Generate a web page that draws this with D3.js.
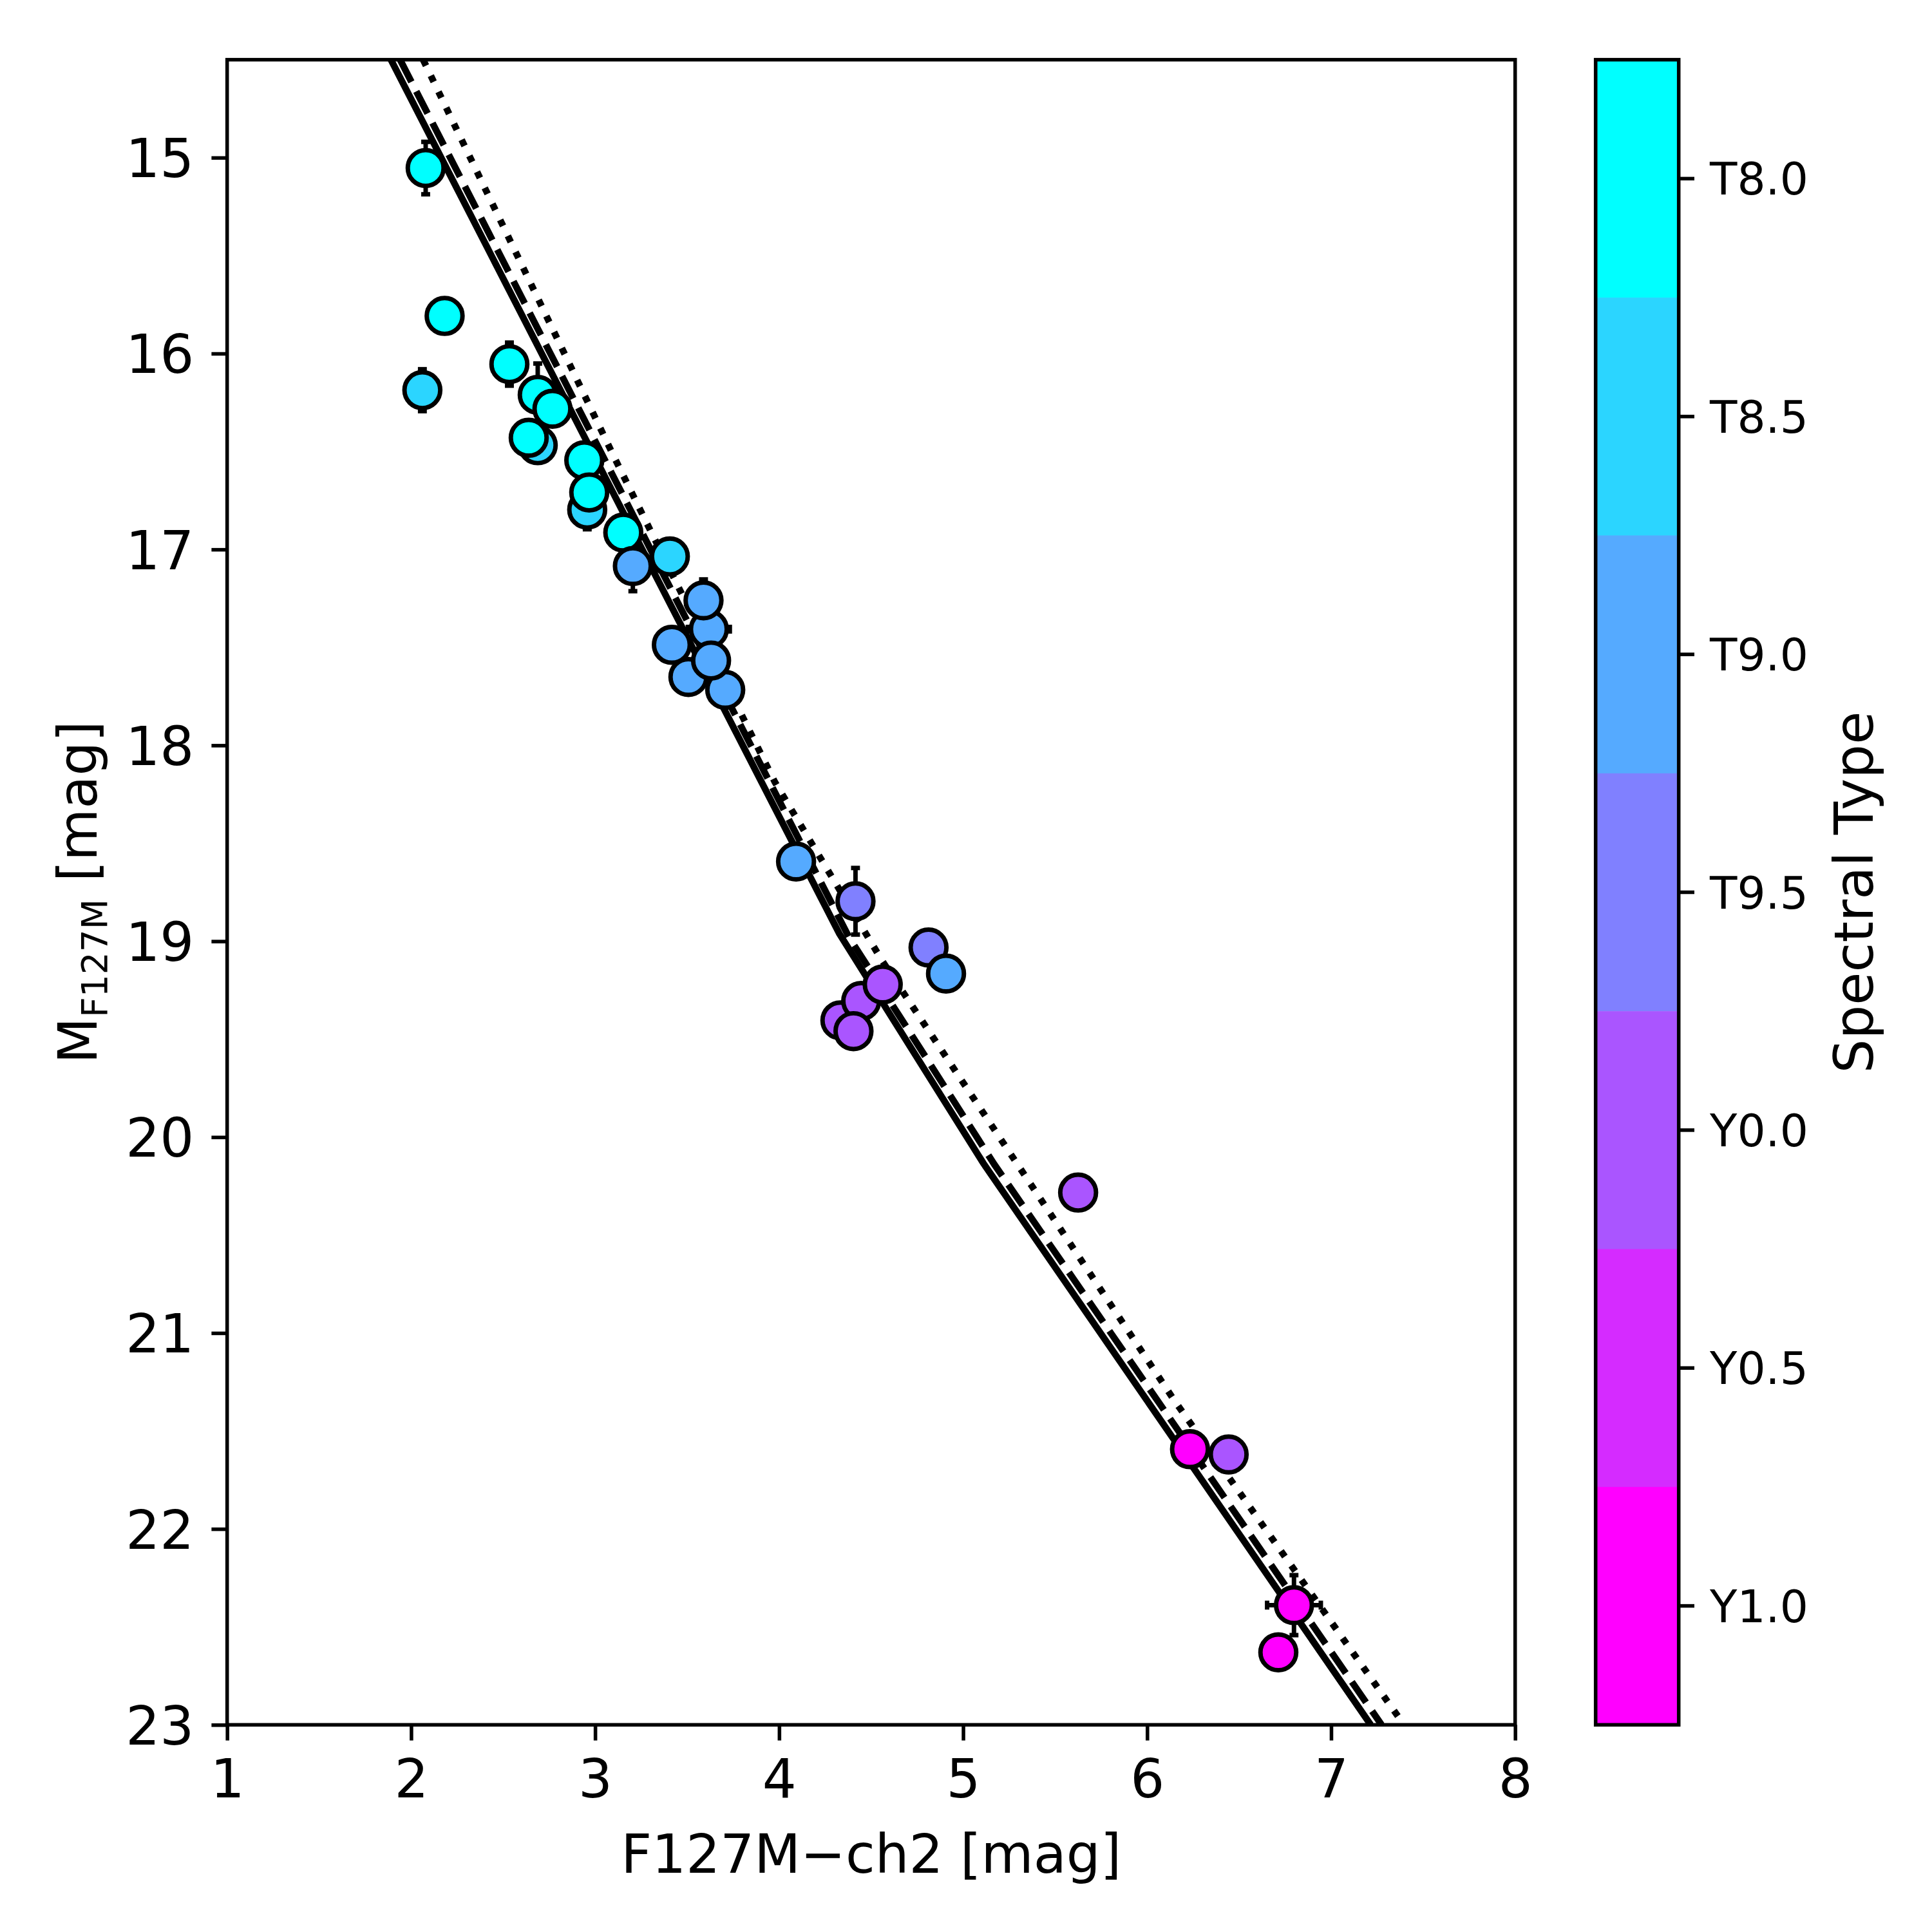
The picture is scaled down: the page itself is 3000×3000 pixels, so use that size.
<!DOCTYPE html>
<html>
<head>
<meta charset="utf-8">
<script src="https://cdn.jsdelivr.net/npm/d3@7"></script>
<style>
  body { margin: 0; background: #fff; }
  text { font-family: "DejaVu Sans", sans-serif; fill: #000; }
</style>
</head>
<body>
<div id="chart"></div>
<script>
// spectral type bins of the colour bar (top to bottom)
const spectralTypes = ['T8.0', 'T8.5', 'T9.0', 'T9.5', 'Y0.0', 'Y0.5', 'Y1.0'];
const xTicks = [1, 2, 3, 4, 5, 6, 7, 8];
const yTicks = [15, 16, 17, 18, 19, 20, 21, 22, 23];

// objects: F127M-ch2 colour, absolute F127M mag, errors, spectral type
const objColour = [2.079, 2.182, 2.061, 2.534, 2.688, 2.768, 2.688, 2.639, 2.957, 2.941, 2.968,
  3.153, 3.406, 3.205, 3.618, 3.589, 3.417, 3.507, 3.707, 3.630, 4.092, 4.415, 4.812, 4.907,
  4.333, 4.446, 4.404, 4.563, 5.625, 6.233, 6.443, 6.798, 6.713];
const objMag = [15.053, 15.808, 16.187, 16.054, 16.211, 16.282, 16.468, 16.430, 16.797, 16.545, 16.709,
  16.914, 17.036, 17.085, 17.407, 17.260, 17.487, 17.651, 17.717, 17.567, 18.593, 18.796, 19.032, 19.165,
  19.404, 19.305, 19.459, 19.221, 20.283, 21.593, 21.620, 22.389, 22.630];
const objColourErr = [0.04, 0.03, 0.04, 0.05, 0.05, 0.04, 0.05, 0.04, 0.05, 0.04, 0.04,
  0.05, 0.05, 0.06, 0.114, 0.06, 0.05, 0.05, 0.05, 0.06, 0.05, 0.08, 0.05, 0.05,
  0.05, 0.05, 0.05, 0.05, 0.05, 0.06, 0.06, 0.146, 0.07];
const objMagErr = [0.134, 0.05, 0.107, 0.11, 0.16, 0.06, 0.07, 0.05, 0.10, 0.05, 0.06,
  0.06, 0.07, 0.128, 0.06, 0.107, 0.05, 0.06, 0.05, 0.06, 0.06, 0.17, 0.07, 0.06,
  0.05, 0.05, 0.05, 0.06, 0.07, 0.07, 0.07, 0.153, 0.08];
const objType = ['T8.0', 'T8.0', 'T8.5', 'T8.0', 'T8.0', 'T8.0', 'T8.5', 'T8.0', 'T8.5', 'T8.0', 'T8.0',
  'T8.0', 'T8.5', 'T9.0', 'T9.0', 'T9.0', 'T9.0', 'T9.0', 'T9.0', 'T9.0', 'T9.0', 'T9.5', 'T9.5', 'T9.0',
  'Y0.0', 'Y0.0', 'Y0.0', 'Y0.0', 'Y0.0', 'Y1.0', 'Y0.0', 'Y1.0', 'Y1.0'];

// model relations
const solidColour = [1.89, 4.327, 5.109, 7.215];
const solidMag = [14.5, 18.961, 20.132, 23.0];
const dashColour = [1.94, 4.38, 5.17, 7.274];
const dashMag = [14.5, 18.98, 20.14, 23.0];
const dotColour = [2.065, 3.112, 3.977, 4.562, 5.144, 6.145, 7.396];
const dotMag = [14.5, 16.545, 18.188, 19.103, 19.925, 21.34, 23.0];

const W = 3000, H = 3000;
const pt = 500 / 72;
const margin = { left: 352.7, right: 2352.7, top: 92.7, bottom: 2678.3 };
const cbar = { left: 2477.7, right: 2606.7 };

const typeColour = d3.scaleOrdinal()
  .domain(spectralTypes)
  .range(spectralTypes.map((_, i) => d3.interpolateRgb('#00ffff', '#ff00ff')(i / (spectralTypes.length - 1))));

const x = d3.scaleLinear().domain([1, 8]).range([margin.left, margin.right]);
const y = d3.scaleLinear().domain([14.5, 23]).range([margin.top, margin.bottom]);

const svg = d3.select('#chart').append('svg')
  .attr('width', W)
  .attr('height', H)
  .attr('viewBox', [0, 0, W, H])
  .style('background', '#fff');

svg.append('defs').append('clipPath')
  .attr('id', 'plot-clip')
  .append('rect')
    .attr('x', margin.left)
    .attr('y', margin.top)
    .attr('width', margin.right - margin.left)
    .attr('height', margin.bottom - margin.top);

const plot = svg.append('g').attr('clip-path', 'url(#plot-clip)');

// model lines
const line = d3.line().x(d => x(d[0])).y(d => y(d[1]));
const models = [
  { pts: d3.zip(solidColour, solidMag), dash: null },
  { pts: d3.zip(dashColour, dashMag), dash: [3.7 * 1.5 * pt, 1.6 * 1.5 * pt] },
  { pts: d3.zip(dotColour, dotMag), dash: [1 * 1.5 * pt, 1.65 * 1.5 * pt] }
];
models.forEach(m => {
  plot.append('path')
    .attr('d', line(m.pts))
    .attr('fill', 'none')
    .attr('stroke', '#000')
    .attr('stroke-width', 1.5 * pt)
    .attr('stroke-dasharray', m.dash ? m.dash.join(',') : null);
});

// error bars then markers
const objects = objColour.map((c, i) => ({
  c, m: objMag[i], ce: objColourErr[i], me: objMagErr[i], type: objType[i]
}));
const cap = 1 * pt;
const errG = plot.append('g')
  .attr('stroke', '#000')
  .attr('stroke-width', 1 * pt);
objects.forEach(d => {
  const g = errG.append('g');
  g.append('line')
    .attr('x1', x(d.c)).attr('x2', x(d.c))
    .attr('y1', y(d.m - d.me)).attr('y2', y(d.m + d.me));
  g.append('line')
    .attr('x1', x(d.c - d.ce)).attr('x2', x(d.c + d.ce))
    .attr('y1', y(d.m)).attr('y2', y(d.m));
  [d.m - d.me, d.m + d.me].forEach(v => {
    g.append('line')
      .attr('x1', x(d.c) - cap).attr('x2', x(d.c) + cap)
      .attr('y1', y(v)).attr('y2', y(v));
  });
  [d.c - d.ce, d.c + d.ce].forEach(v => {
    g.append('line')
      .attr('x1', x(v)).attr('x2', x(v))
      .attr('y1', y(d.m) - cap).attr('y2', y(d.m) + cap);
  });
});

plot.append('g')
  .selectAll('circle')
  .data(objects)
  .join('circle')
    .attr('cx', d => x(d.c))
    .attr('cy', d => y(d.m))
    .attr('r', 4 * pt)
    .attr('fill', d => typeColour(d.type))
    .attr('stroke', '#000')
    .attr('stroke-width', 1 * pt);

// axes
const tickLen = 3.5 * pt;
const fontMain = 12 * pt;
const fontSmall = 10 * pt;

const styleAxis = (g, size) => {
  g.select('.domain').remove();
  g.selectAll('.tick line').attr('stroke', '#000').attr('stroke-width', 0.8 * pt);
  g.selectAll('.tick text')
    .attr('font-size', size)
    .attr('font-family', '"DejaVu Sans", sans-serif')
    .attr('fill', '#000');
};

svg.append('g')
  .attr('transform', `translate(0,${margin.bottom})`)
  .call(d3.axisBottom(x).tickValues(xTicks).tickFormat(d3.format('d')).tickSize(tickLen).tickPadding(29))
  .call(g => styleAxis(g, fontMain));

svg.append('g')
  .attr('transform', `translate(${margin.left},0)`)
  .call(d3.axisLeft(y).tickValues(yTicks).tickFormat(d3.format('d')).tickSize(tickLen).tickPadding(27))
  .call(g => styleAxis(g, fontMain))
  .call(g => g.selectAll('.tick text').attr('dy', '0.36em'));

svg.append('rect')
  .attr('x', margin.left)
  .attr('y', margin.top)
  .attr('width', margin.right - margin.left)
  .attr('height', margin.bottom - margin.top)
  .attr('fill', 'none')
  .attr('stroke', '#000')
  .attr('stroke-width', 0.8 * pt);

svg.append('text')
  .attr('x', (margin.left + margin.right) / 2)
  .attr('y', 2908)
  .attr('text-anchor', 'middle')
  .attr('font-size', fontMain)
  .text('F127M\u2212ch2 [mag]');

const ylab = svg.append('text')
  .attr('transform', `translate(150,${(margin.top + margin.bottom) / 2}) rotate(-90)`)
  .attr('text-anchor', 'middle')
  .attr('font-size', fontMain);
ylab.append('tspan').text('M');
ylab.append('tspan').attr('font-size', 55).attr('dy', 16).text('F127M');
ylab.append('tspan').attr('dy', -16).text(' [mag]');

// colour bar
const cb = d3.scaleBand()
  .domain(spectralTypes)
  .range([margin.top, margin.bottom])
  .paddingInner(0)
  .paddingOuter(0);

svg.append('g')
  .selectAll('rect')
  .data(spectralTypes)
  .join('rect')
    .attr('x', cbar.left)
    .attr('y', d => cb(d))
    .attr('width', cbar.right - cbar.left)
    .attr('height', cb.bandwidth() + 0.5)
    .attr('fill', d => typeColour(d));

svg.append('rect')
  .attr('x', cbar.left)
  .attr('y', margin.top)
  .attr('width', cbar.right - cbar.left)
  .attr('height', margin.bottom - margin.top)
  .attr('fill', 'none')
  .attr('stroke', '#000')
  .attr('stroke-width', 0.8 * pt);

svg.append('g')
  .attr('transform', `translate(${cbar.right},0)`)
  .call(d3.axisRight(cb).tickSize(tickLen).tickPadding(24))
  .call(g => styleAxis(g, fontSmall))
  .call(g => g.selectAll('.tick text').attr('dy', '0.36em'));

svg.append('text')
  .attr('transform', `translate(2908,${(margin.top + margin.bottom) / 2}) rotate(-90)`)
  .attr('text-anchor', 'middle')
  .attr('font-size', fontMain)
  .text('Spectral Type');
</script>
</body>
</html>
